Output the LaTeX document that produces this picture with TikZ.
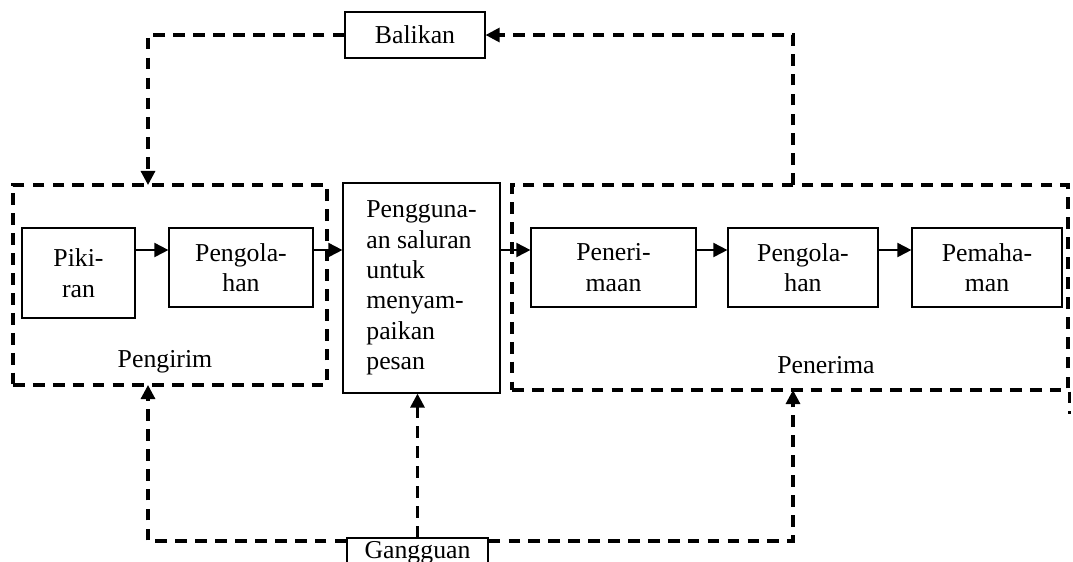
\documentclass[tikz,border=0pt]{standalone}
\usepackage{fontspec}
\setmainfont{Liberation Serif}
\usetikzlibrary{arrows.meta,positioning,calc}
\tikzset{
  kmBox/.style={draw=black, line width=0.5pt, inner sep=0pt, align=center,
    minimum height=1.185cm, font=\fontsize{11}{13}\selectfont},
  kmGroup/.style={draw=black, line width=1.3pt, dash pattern=on 5pt off 3.5pt, inner sep=0pt},
  kmLbl/.style={font=\fontsize{11}{13}\selectfont},
  %% Arrows
  kmflow/.style={-{Triangle[length=6pt,width=6pt]}, line width=0.8pt},
  kmfb/.style={-{Triangle[length=6pt,width=6pt]}, line width=1.3pt, dash pattern=on 5pt off 3.5pt},
  kmline/.style={line width=1.3pt, dash pattern=on 5pt off 3.5pt},
}
\begin{document}
\begin{tikzpicture}[x=0.015cm, y=-0.015cm]
\useasboundingbox (0,0) rectangle (1073,561);

%% Sender / receiver groups
\node[kmGroup, minimum width=4.71cm, minimum height=3.0cm]   (pengirim) at (170,285) {};
\node[kmGroup, minimum width=8.34cm, minimum height=3.075cm] (penerima) at (790,287.5) {};
\node[kmLbl] (pengirimLbl) at (165,362) {Pengirim};
\node[kmLbl] (penerimaLbl) at (826,365) {Penerima};

%% Process boxes
\node[kmBox, minimum width=1.695cm, minimum height=1.35cm] (pikiran) at (78.5,273) {Piki-\\ran};
\node[kmBox, minimum width=2.16cm]  (olahA)  at (241,267.5)   {Pengola-\\han};
\node[kmBox, align=left, minimum width=2.355cm, minimum height=3.15cm] (saluran) at (421.5,288)
  {Pengguna-\\an saluran\\untuk\\menyam-\\paikan\\pesan};
\node[kmBox, minimum width=2.475cm] (terima) at (613.5,267.5) {Peneri-\\maan};
\node[kmBox, minimum width=2.25cm]  (olahB)  at (803,267.5)   {Pengola-\\han};
\node[kmBox, minimum width=2.25cm]  (paham)  at (987,267.5)   {Pemaha-\\man};

%% Feedback and noise
\node[kmBox, minimum width=2.1cm, minimum height=0.69cm]   (balikan)  at (415,35)    {Balikan};
\node[kmBox, minimum width=2.115cm, minimum height=0.45cm] (gangguan) at (417.5,553) {Gangguan};

%% Main flow
\coordinate (flow) at (0,250);
\draw[kmflow] (pikiran.east |- flow) -- (olahA.west |- flow);
\draw[kmflow] (olahA.east |- flow)   -- (saluran.west |- flow);
\draw[kmflow] (saluran.east |- flow) -- (terima.west |- flow);
\draw[kmflow] (terima.east |- flow)  -- (olahB.west |- flow);
\draw[kmflow] (olahB.east |- flow)   -- (paham.west |- flow);

%% Balikan loop
\coordinate (fbR) at (793,185);
\coordinate (fbL) at (148,185);
\draw[kmfb] (fbR) |- (balikan.east);
\draw[kmfb] (balikan.west) -| (fbL);

%% Gangguan lines
\coordinate (gbase) at (0,541);
\coordinate (inL) at (148,385);
\coordinate (inR) at (793,390);
\draw[kmfb] (gangguan.west |- gbase) -| (inL);
\draw[kmfb] (gangguan.east |- gbase) -| (inR);
\draw[kmfb] (gangguan.north) -- (gangguan.north |- saluran.south);

\draw[kmline] (penerima.south east) -- ++(0,22);

\end{tikzpicture}
\end{document}
